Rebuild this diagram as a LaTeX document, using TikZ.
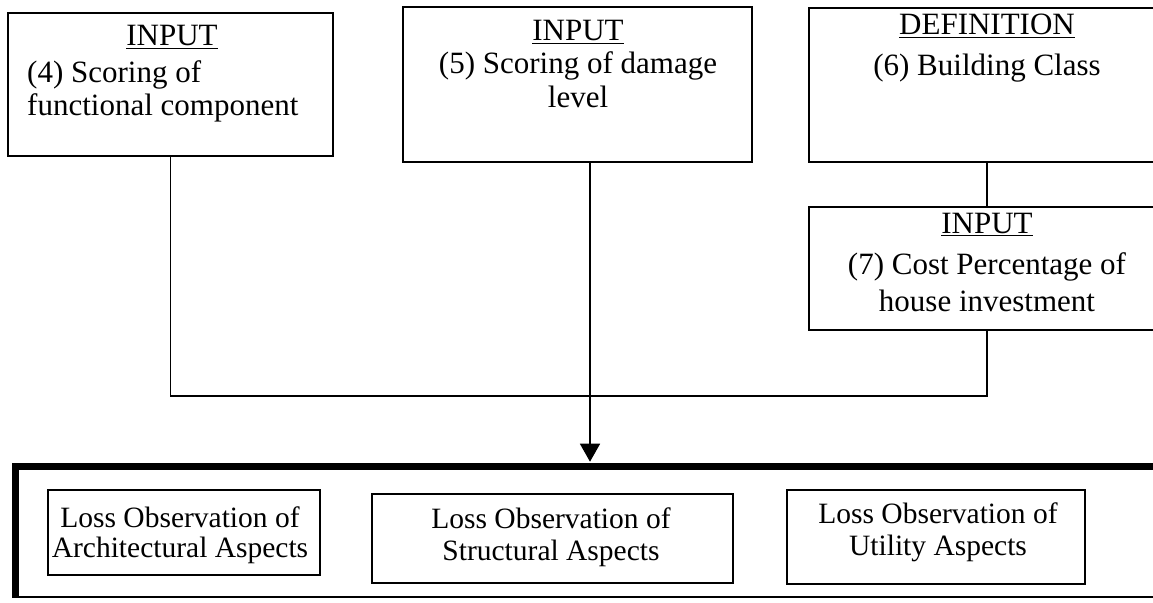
\documentclass[tikz,border=0pt]{standalone}
\usepackage{fontspec}
\setmainfont{Liberation Serif}
\usetikzlibrary{arrows.meta}
\begin{document}
\begin{tikzpicture}[x=1pt,y=-1pt,
  box/.style={draw, line width=1.6pt, rectangle, inner sep=0pt},
  big/.style={font=\fontsize{31}{34}\selectfont, inner sep=0pt},
  small/.style={font=\fontsize{29.5}{32}\selectfont, inner sep=0pt},
  conn/.style={line width=1.6pt},
  arr/.style={conn, -{Triangle[length=18pt,width=20pt]}}]
\useasboundingbox (0,0) rectangle (1153,602);
\clip (0,0) rectangle (1153,602);
% top boxes
\node[box, minimum width=325pt, minimum height=143pt] (b4) at (170.5,84.5) {};
\node[box, minimum width=349pt, minimum height=155pt] (b5) at (577.5,84.5) {};
\node[box, minimum width=356pt, minimum height=154pt] (b6) at (987,85) {};
\node[box, minimum width=356pt, minimum height=123pt] (b7) at (987,268.5) {};
% texts of top boxes
\node[big, anchor=base] (t4a) at (172,46) {\underline{INPUT}};
\node[big, anchor=base west] (t4b) at (27,82) {(4) Scoring of};
\node[big, anchor=base west] (t4c) at (27,115) {functional component};
\node[big, anchor=base] (t5a) at (578,41) {\underline{INPUT}};
\node[big, anchor=base] (t5b) at (578,74) {(5) Scoring of damage};
\node[big, anchor=base] (t5c) at (578,107) {level};
\node[big, anchor=base] (t6a) at (987,35) {\underline{DEFINITION}};
\node[big, anchor=base] (t6b) at (987,75) {(6) Building Class};
\node[big, anchor=base] (t7a) at (987,233) {\underline{INPUT}};
\node[big, anchor=base] (t7b) at (987,274) {(7) Cost Percentage of};
\node[big, anchor=base] (t7c) at (987,311) {house investment};
% bottom container
\node[draw, line width=1.6pt, inner sep=0pt, minimum width=1154pt, minimum height=130pt] (bigbox) at (593,532) {};
\draw[line width=7pt] (bigbox.south west) -- (bigbox.north west) -- (bigbox.north east);
\node[box, minimum width=272pt, minimum height=85pt] (la) at (184,532.5) {};
\node[box, minimum width=361pt, minimum height=89pt] (lb) at (552.5,538.5) {};
\node[box, minimum width=298pt, minimum height=94pt] (lc) at (936,537) {};
\node[small, anchor=base] (ta1) at (180,527) {Loss Observation of};
\node[small, anchor=base] (ta2) at (180,557) {Architectural Aspects};
\node[small, anchor=base] (tb1) at (551,528) {Loss Observation of};
\node[small, anchor=base] (tb2) at (551,560) {Structural Aspects};
\node[small, anchor=base] (tc1) at (938,523) {Loss Observation of};
\node[small, anchor=base] (tc2) at (938,555) {Utility Aspects};
% connectors
\coordinate (j) at (590,396);
\draw[conn] (b4.south) |- (j) -| (b7.south);
\draw[conn] (b6.south) -- (b7.north);
\draw[arr, shorten >=4.5pt] (b5.south -| j) -- (bigbox.north -| j);
\end{tikzpicture}
\end{document}
